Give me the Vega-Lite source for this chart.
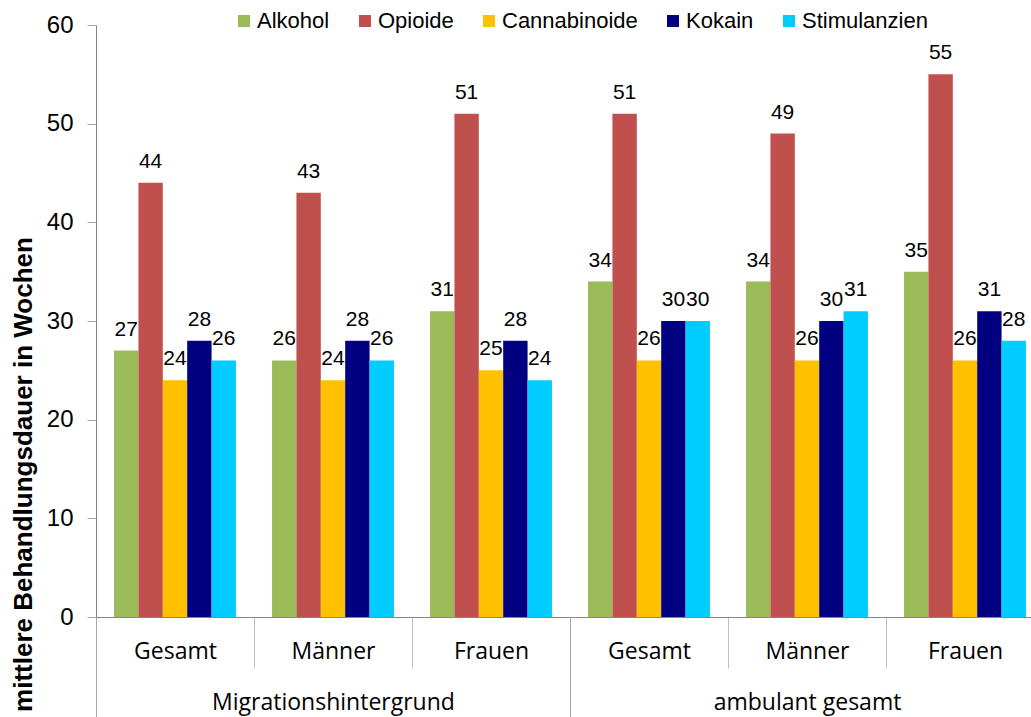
{
  "$schema": "https://vega.github.io/schema/vega-lite/v6.json",
  "width": 948,
  "height": 592,
  "autosize": {"type": "none"},
  "padding": {"left": 96, "top": 25, "right": -13, "bottom": 100},
  "config": {
    "view": {"stroke": null},
    "font": "Liberation Sans",
    "axis": {"labelColor": "black", "titleColor": "black", "grid": false}
  },
  "data": {
    "values": [
      {"grp": "Migrationshintergrund", "key": "Migrationshintergrund|Gesamt", "stoff": "Alkohol", "wert": 27},
      {"grp": "Migrationshintergrund", "key": "Migrationshintergrund|Gesamt", "stoff": "Opioide", "wert": 44},
      {"grp": "Migrationshintergrund", "key": "Migrationshintergrund|Gesamt", "stoff": "Cannabinoide", "wert": 24},
      {"grp": "Migrationshintergrund", "key": "Migrationshintergrund|Gesamt", "stoff": "Kokain", "wert": 28},
      {"grp": "Migrationshintergrund", "key": "Migrationshintergrund|Gesamt", "stoff": "Stimulanzien", "wert": 26},
      {"grp": "Migrationshintergrund", "key": "Migrationshintergrund|Männer", "stoff": "Alkohol", "wert": 26},
      {"grp": "Migrationshintergrund", "key": "Migrationshintergrund|Männer", "stoff": "Opioide", "wert": 43},
      {"grp": "Migrationshintergrund", "key": "Migrationshintergrund|Männer", "stoff": "Cannabinoide", "wert": 24},
      {"grp": "Migrationshintergrund", "key": "Migrationshintergrund|Männer", "stoff": "Kokain", "wert": 28},
      {"grp": "Migrationshintergrund", "key": "Migrationshintergrund|Männer", "stoff": "Stimulanzien", "wert": 26},
      {"grp": "Migrationshintergrund", "key": "Migrationshintergrund|Frauen", "stoff": "Alkohol", "wert": 31},
      {"grp": "Migrationshintergrund", "key": "Migrationshintergrund|Frauen", "stoff": "Opioide", "wert": 51},
      {"grp": "Migrationshintergrund", "key": "Migrationshintergrund|Frauen", "stoff": "Cannabinoide", "wert": 25},
      {"grp": "Migrationshintergrund", "key": "Migrationshintergrund|Frauen", "stoff": "Kokain", "wert": 28},
      {"grp": "Migrationshintergrund", "key": "Migrationshintergrund|Frauen", "stoff": "Stimulanzien", "wert": 24},
      {"grp": "ambulant gesamt", "key": "ambulant gesamt|Gesamt", "stoff": "Alkohol", "wert": 34},
      {"grp": "ambulant gesamt", "key": "ambulant gesamt|Gesamt", "stoff": "Opioide", "wert": 51},
      {"grp": "ambulant gesamt", "key": "ambulant gesamt|Gesamt", "stoff": "Cannabinoide", "wert": 26},
      {"grp": "ambulant gesamt", "key": "ambulant gesamt|Gesamt", "stoff": "Kokain", "wert": 30},
      {"grp": "ambulant gesamt", "key": "ambulant gesamt|Gesamt", "stoff": "Stimulanzien", "wert": 30},
      {"grp": "ambulant gesamt", "key": "ambulant gesamt|Männer", "stoff": "Alkohol", "wert": 34},
      {"grp": "ambulant gesamt", "key": "ambulant gesamt|Männer", "stoff": "Opioide", "wert": 49},
      {"grp": "ambulant gesamt", "key": "ambulant gesamt|Männer", "stoff": "Cannabinoide", "wert": 26},
      {"grp": "ambulant gesamt", "key": "ambulant gesamt|Männer", "stoff": "Kokain", "wert": 30},
      {"grp": "ambulant gesamt", "key": "ambulant gesamt|Männer", "stoff": "Stimulanzien", "wert": 31},
      {"grp": "ambulant gesamt", "key": "ambulant gesamt|Frauen", "stoff": "Alkohol", "wert": 35},
      {"grp": "ambulant gesamt", "key": "ambulant gesamt|Frauen", "stoff": "Opioide", "wert": 55},
      {"grp": "ambulant gesamt", "key": "ambulant gesamt|Frauen", "stoff": "Cannabinoide", "wert": 26},
      {"grp": "ambulant gesamt", "key": "ambulant gesamt|Frauen", "stoff": "Kokain", "wert": 31},
      {"grp": "ambulant gesamt", "key": "ambulant gesamt|Frauen", "stoff": "Stimulanzien", "wert": 28}
    ]
  },
  "layer": [
    {
      "encoding": {
        "x": {
          "field": "key",
          "type": "nominal",
          "sort": ["Migrationshintergrund|Gesamt", "Migrationshintergrund|Männer", "Migrationshintergrund|Frauen", "ambulant gesamt|Gesamt", "ambulant gesamt|Männer", "ambulant gesamt|Frauen"],
          "scale": {"paddingInner": 0, "paddingOuter": 0},
          "axis": {
            "title": null,
            "labelExpr": "split(datum.value, '|')[1]",
            "labelAngle": 0,
            "labelFont": "Open Sans",
            "labelFontSize": 23,
            "labelBaseline": "middle",
            "labelPadding": -17,
            "tickBand": "extent",
            "tickSize": 51,
            "tickColor": "#BFBFBF",
            "domainColor": "#868686",
            "domainWidth": 1
          }
        },
        "xOffset": {
          "field": "stoff",
          "type": "nominal",
          "sort": ["Alkohol", "Opioide", "Cannabinoide", "Kokain", "Stimulanzien"],
          "scale": {"paddingOuter": 0.74, "paddingInner": 0}
        },
        "y": {
          "field": "wert",
          "type": "quantitative",
          "scale": {"domain": [0, 60]},
          "axis": {
            "values": [0, 10, 20, 30, 40, 50, 60],
            "title": "mittlere Behandlungsdauer in Wochen",
            "titleFontSize": 26,
            "titleFontWeight": "bold",
            "titleX": -73,
            "titleY": 449,
            "titleAngle": 270,
            "titleAlign": "center",
            "titleBaseline": "middle",
            "labelFontSize": 24,
            "labelPadding": 14,
            "tickSize": 9,
            "tickColor": "#A6A6A6",
            "domainColor": "#868686"
          }
        }
      },
      "layer": [
        {
          "mark": {"type": "bar"},
          "encoding": {
            "color": {
              "field": "stoff",
              "type": "nominal",
              "scale": {
                "domain": ["Alkohol", "Opioide", "Cannabinoide", "Kokain", "Stimulanzien"],
                "range": ["#9BBB59", "#C0504D", "#FFC000", "#000080", "#00CCFF"]
              },
              "legend": {
                "title": null,
                "orient": "none",
                "direction": "horizontal",
                "legendX": 137,
                "legendY": -15,
                "padding": 0,
                "symbolType": "square",
                "symbolSize": 144,
                "symbolStrokeWidth": 0,
                "labelFont": "Liberation Sans",
                "labelFontSize": 22,
                "labelColor": "black",
                "labelOffset": 2,
                "columnPadding": 24
              }
            }
          }
        },
        {
          "mark": {"type": "text", "baseline": "bottom", "dy": -11, "fontSize": 21, "font": "Liberation Sans", "color": "black"},
          "encoding": {"text": {"field": "wert", "type": "quantitative"}}
        }
      ]
    },
    {
      "mark": {"type": "text", "opacity": 0},
      "encoding": {
        "x": {
          "field": "grp",
          "type": "nominal",
          "sort": ["Migrationshintergrund", "ambulant gesamt"],
          "scale": {"paddingInner": 0, "paddingOuter": 0},
          "axis": {
            "orient": "bottom",
            "title": null,
            "domain": false,
            "labelAngle": 0,
            "labelFont": "Open Sans",
            "labelFontSize": 23,
            "labelColor": "black",
            "labelBaseline": "middle",
            "labelPadding": -15,
            "labelLimit": 400,
            "tickBand": "extent",
            "tickSize": 100,
            "tickColor": "#A6A6A6"
          }
        },
        "text": {"field": "grp", "type": "nominal"}
      }
    }
  ],
  "resolve": {"scale": {"x": "independent"}, "axis": {"x": "independent"}}
}
